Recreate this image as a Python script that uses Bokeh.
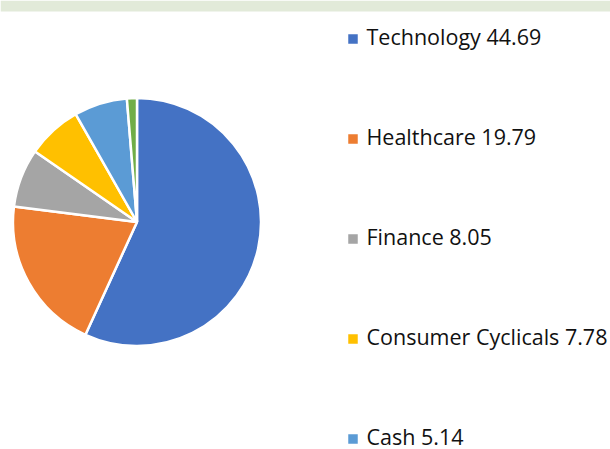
import math
from bokeh.plotting import figure
from bokeh.models import Range1d, ColumnDataSource
from bokeh.core.properties import value
from bokeh.embed import file_html
from bokeh.resources import INLINE

# Legend entries (as printed)
legend_names = ["Technology", "Healthcare", "Finance", "Consumer Cyclicals", "Cash"]
legend_values = [44.69, 19.79, 8.05, 7.78, 5.14]

# Slice shares (last slice's legend is off-page)
slice_names = ["Technology", "Healthcare", "Finance", "Consumer Cyclicals", "Cash", "Other"]
slice_shares = [56.6, 20.1, 7.6, 7.1, 6.9, 1.3]
colors = ["#4472C4", "#ED7D31", "#A5A5A5", "#FFC000", "#5B9BD5", "#70AD47"]

W, H = 610, 449
p = figure(width=W, height=H, output_backend="svg", toolbar_location=None,
           x_range=Range1d(0, W), y_range=Range1d(0, H),
           min_border=0, outline_line_color=None)
p.axis.visible = False
p.grid.visible = False
p.background_fill_color = "white"
p.border_fill_color = "white"


def sy(y):
    # screen y (from top) to data y
    return H - y


# header band
p.quad(left=[0], right=[W], top=[sy(0)], bottom=[sy(11)], fill_color="#E2EAD9", line_color=None)

# pie: clockwise from 12 o'clock
cx, cy, r = 136.5, 221.5, 124
total = sum(slice_shares)
starts, ends = [], []
cum = 0.0
for s in slice_shares:
    a0 = math.pi / 2 - cum / total * 2 * math.pi
    cum += s
    a1 = math.pi / 2 - cum / total * 2 * math.pi
    starts.append(a0)
    ends.append(a1)
src = ColumnDataSource(dict(start=starts, end=ends, color=colors,
                            x=[cx] * len(colors), y=[sy(cy)] * len(colors)))
p.wedge(x="x", y="y", radius=r, start_angle="start", end_angle="end",
        direction="clock", fill_color="color", line_color="white",
        line_width=2.5, source=src)

# legend
c0, dy = 38.5, 100.0
cs = [c0 + i * dy for i in range(len(legend_names))]
labels = [f"{n} {v:.2f}" for n, v in zip(legend_names, legend_values)]
p.scatter(x=[352.5] * len(cs), y=[sy(c) for c in cs], marker="square",
          size=9.5, fill_color=colors[:len(cs)], line_color=None)
p.text(x=[366] * len(cs), y=[sy(c - 2.5) for c in cs], text=labels,
       text_font=value("Open Sans"), text_font_size="21.5px", text_color="#111111",
       text_baseline="middle", text_align="left")

open("out.html", "w").write(file_html(p, INLINE))
